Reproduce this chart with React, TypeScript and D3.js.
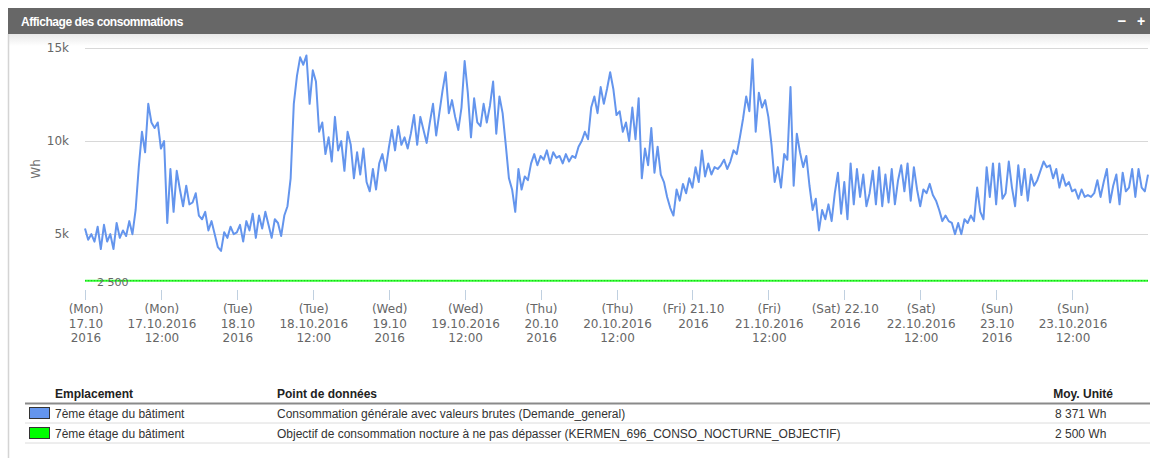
import React from 'react';
import * as d3 from 'd3';

// ---------- DATA ----------
const startDate = new Date(2016, 9, 17, 0, 0);
const endDate = new Date(2016, 9, 24, 0, 0);
const stepMinutes = 30;

const mon17 = [5300,4700,5000,4600,5400,4200,5500,4600,5000,4200,5600,4800,5200,4900,5700,5000,
  6300,8600,10500,9400,12000,11000,10700,11000,9600,10000,5600,8500,6200,8400,7400,6500,
  7600,6600,6700,7200,6000,5800,6200,5200,5700,5000,4300,4100,5100,4800,5400,5000];
const tue18 = [5100,5500,4600,5700,5200,6100,4800,6000,5300,6200,5500,4800,5800,5600,4900,6000,
  6500,8000,12000,13500,14500,14100,14600,12000,13800,13200,10500,11000,9300,10200,8900,11300,
  9500,10000,8400,10500,9800,8000,9400,8200,9600,7800,7300,8500,7400,8800,9300,8400];
const wed19 = [9600,10600,9500,10800,9800,10200,9600,10400,11400,9800,11300,10600,9900,11000,12000,10300,
  11500,12700,13700,11500,12200,11300,10600,11800,14300,12600,10200,12300,11000,10800,12000,11000,
  11900,13200,10400,12400,11500,9800,8000,7400,6200,8500,7400,8100,7900,8800,9300,8700];
const thu20 = [9200,9000,9500,8800,9400,9100,9200,8800,9300,8900,9200,9100,9700,10000,10500,10100,
  11800,12400,11500,12900,12000,12800,13700,12800,11400,11600,10500,11000,10000,11800,10100,12300,
  8000,9600,8700,10700,8300,9700,8200,7800,7000,6400,6000,7400,6800,7700,7200,8000];
const fri21 = [7500,8600,7800,9500,8100,8800,8200,8600,8500,8700,9000,8500,8900,9500,9300,10200,
  11200,12400,11600,14400,10500,12600,11800,12200,11300,9800,7800,8600,7500,9300,9000,12900,
  7600,10400,9400,8600,9200,7600,6300,6900,5200,6300,5800,6600,5700,7200,8300,6100];
const sat22 = [7800,5800,8800,6600,8500,7000,8200,6500,7200,8400,6600,8600,6500,8200,6700,8500,
  6600,7900,8700,7300,8800,6800,8600,7400,6500,7400,7200,7700,7100,6800,6300,5700,
  6000,5700,5600,5000,5600,5000,5800,5600,6000,5700,7500,6200,5800,8600,7000,8800];
const sun23 = [6600,8800,6900,7200,8900,7500,6500,8700,7100,8500,6800,8200,7600,7900,8400,8900,
  8600,8700,8000,8500,7500,8200,7600,7800,7300,7400,6900,7400,7000,7100,7000,7200,
  7900,7000,7800,8500,6700,7600,8200,6600,8300,7300,7500,8500,7000,8500,7500,7300];
const mon24 = [8200];

const consumption = [...mon17, ...tue18, ...wed19, ...thu20, ...fri21, ...sat22, ...sun23, ...mon24];
const targetValue = 2500;
const targetLabel = '2 500';

const yTicks = [5000, 10000, 15000];
const yTickLabels = ['5k', '10k', '15k'];
const yTitle = 'Wh';

const xTickLabels: string[][] = [
  ['(Mon)', '17.10', '2016'],
  ['(Mon)', '17.10.2016', '12:00'],
  ['(Tue)', '18.10', '2016'],
  ['(Tue)', '18.10.2016', '12:00'],
  ['(Wed)', '19.10', '2016'],
  ['(Wed)', '19.10.2016', '12:00'],
  ['(Thu)', '20.10', '2016'],
  ['(Thu)', '20.10.2016', '12:00'],
  ['(Fri) 21.10', '2016'],
  ['(Fri)', '21.10.2016', '12:00'],
  ['(Sat) 22.10', '2016'],
  ['(Sat)', '22.10.2016', '12:00'],
  ['(Sun)', '23.10', '2016'],
  ['(Sun)', '23.10.2016', '12:00'],
];

const panelTitle = 'Affichage des consommations';
const legendHeaders = ['Emplacement', 'Point de données', 'Moy. Unité'];
const legendLocations = ['7ème étage du bâtiment', '7ème étage du bâtiment'];
const legendPoints = [
  'Consommation générale avec valeurs brutes (Demande_general)',
  'Objectif de consommation nocture à ne pas dépasser (KERMEN_696_CONSO_NOCTURNE_OBJECTIF)',
];
const legendAverages = ['8 371 Wh', '2 500 Wh'];
const legendColors = ['#6495ed', '#00ff00'];

// ---------- CHART ----------
const W = 1150;
const H = 458;
const plot = { left: 85, right: 1148, top: 48, bottom: 290 };
const axisFont = '"DejaVu Sans", Verdana, sans-serif';
const tableFont = '"Liberation Sans", Arial, sans-serif';

export default function App() {
  const x = d3.scaleTime().domain([startDate, endDate]).range([plot.left, plot.right]);
  const y = d3.scaleLinear().domain([2000, 15000]).range([plot.bottom, plot.top]);

  const points = consumption.map((v, i) => ({
    t: new Date(startDate.getTime() + i * stepMinutes * 60000),
    v,
  }));
  const line = d3
    .line<{ t: Date; v: number }>()
    .x((d) => x(d.t))
    .y((d) => y(d.v));

  const ticks = d3.timeHour.every(12)!.range(startDate, endDate);

  const legendY = [413.5, 433.5];

  return (
    <div style={{ position: 'fixed', left: 0, top: 0 }}>
      <svg width={W} height={H} style={{ display: 'block', background: '#fff' }}>
        <defs>
          <linearGradient id="shade" x1="0" x2="0" y1="0" y2="1">
            <stop offset="0" stopColor="#e8e8e8" />
            <stop offset="1" stopColor="#ffffff" />
          </linearGradient>
        </defs>
        {/* panel */}
        <rect x={8} y={34} width={W - 8} height={12} fill="url(#shade)" />
        <line x1={8.5} x2={8.5} y1={34} y2={H} stroke="#d4d4d4" strokeWidth={1.5} />
        <rect x={8} y={8} width={W - 8} height={26} fill="#676767" />
        <text x={21} y={26} fill="#fff" fontFamily={tableFont} fontWeight="bold" fontSize={12} letterSpacing={-0.45}>
          {panelTitle}
        </text>
        <text x={1122} y={26} fill="#fff" fontFamily={tableFont} fontWeight="bold" fontSize={15} textAnchor="middle">−</text>
        <text x={1141} y={26} fill="#fff" fontFamily={tableFont} fontWeight="bold" fontSize={14} textAnchor="middle">+</text>

        {/* grid + y labels */}
        {yTicks.map((t, i) => (
          <g key={t}>
            <line x1={plot.left} x2={plot.right} y1={Math.round(y(t)) + 0.5} y2={Math.round(y(t)) + 0.5} stroke="#d8d8d8" />
            <text x={69} y={y(t) + 4} textAnchor="end" fill="#666" fontFamily={axisFont} fontSize={12}>
              {yTickLabels[i]}
            </text>
          </g>
        ))}
        <text
          transform={`translate(40, ${(plot.top + plot.bottom) / 2}) rotate(-90)`}
          textAnchor="middle"
          fill="#707070"
          fontFamily={axisFont}
          fontSize={12}
        >
          {yTitle}
        </text>

        {/* x ticks */}
        {ticks.map((t, i) => (
          <g key={i}>
            <line x1={Math.round(x(t)) + 0.5} x2={Math.round(x(t)) + 0.5} y1={plot.bottom} y2={plot.bottom + 10} stroke="#c0d0e0" />
            {xTickLabels[i].map((s, j) => (
              <text key={j} x={x(t) + 1} y={313 + j * 14.6} textAnchor="middle" fill="#666" fontFamily={axisFont} fontSize={12}>
                {s}
              </text>
            ))}
          </g>
        ))}

        {/* target line */}
        <line x1={plot.left} x2={plot.right} y1={y(targetValue)} y2={y(targetValue)} stroke="#33ff33" strokeWidth={2} />
        <line x1={plot.left} x2={plot.right} y1={y(targetValue)} y2={y(targetValue)} stroke="#19b819" strokeWidth={1} strokeDasharray="1,2" />
        <text x={97} y={y(targetValue) + 5} fill="#666" fontFamily={axisFont} fontSize={11}>
          {targetLabel}
        </text>

        {/* series */}
        <path d={line(points) || ''} fill="none" stroke="#6495ed" strokeWidth={2} strokeLinejoin="round" />

        {/* legend table */}
        <text x={55} y={398} fontFamily={tableFont} fontWeight="bold" fontSize={12} fill="#222">{legendHeaders[0]}</text>
        <text x={277} y={398} fontFamily={tableFont} fontWeight="bold" fontSize={12} fill="#222">{legendHeaders[1]}</text>
        <text x={1113} y={398} textAnchor="end" fontFamily={tableFont} fontWeight="bold" fontSize={12} fill="#222">{legendHeaders[2]}</text>
        <line x1={25} x2={W} y1={403.5} y2={403.5} stroke="#8a8a8a" strokeWidth={2} />
        {legendY.map((cy, i) => (
          <g key={i}>
            <rect x={29.5} y={cy - 6} width={20} height={11} fill={legendColors[i]} stroke="#333" strokeWidth={1} />
            <text x={55} y={cy + 4} fontFamily={tableFont} fontSize={12} fill="#333">{legendLocations[i]}</text>
            <text x={277} y={cy + 4} fontFamily={tableFont} fontSize={12} fill="#333">{legendPoints[i]}</text>
            <text x={1055} y={cy + 4} fontFamily={tableFont} fontSize={12} fill="#333">{legendAverages[i]}</text>
            <line x1={25} x2={W} y1={cy + 9.5} y2={cy + 9.5} stroke="#dcdcdc" strokeWidth={1} />
          </g>
        ))}
      </svg>
    </div>
  );
}
